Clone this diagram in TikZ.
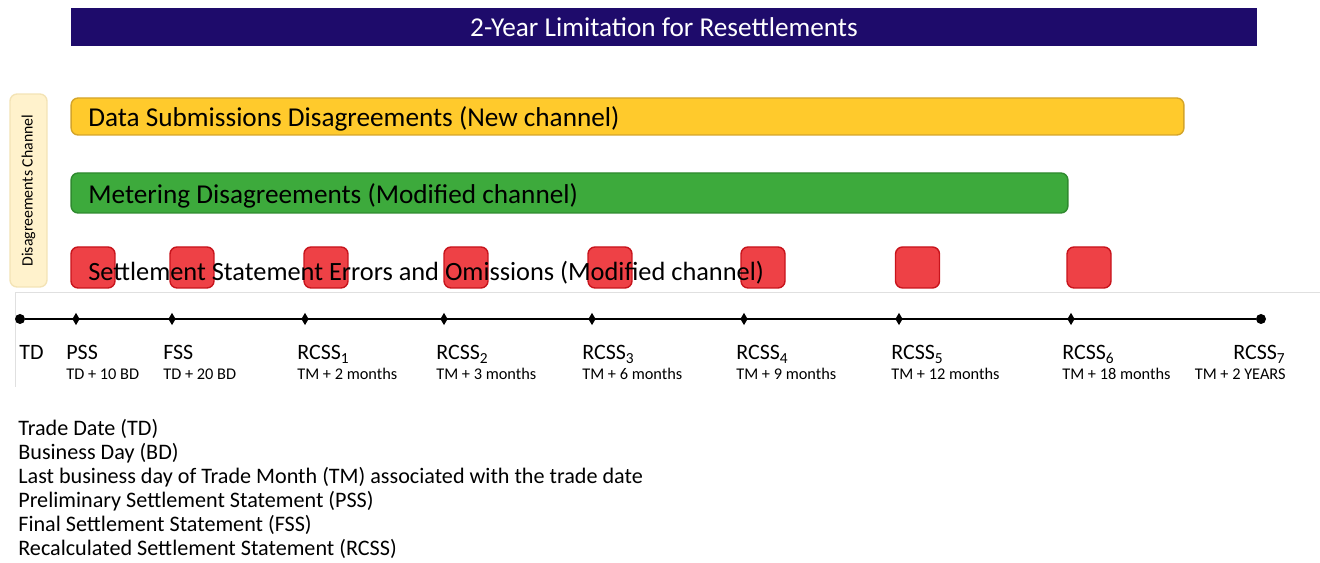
\documentclass[tikz,border=0pt]{standalone}
\usepackage{fontspec}
\setmainfont{Carlito}
\usetikzlibrary{shapes.geometric,positioning}
\definecolor{titleblue}{HTML}{1E0B6B}
\definecolor{datayellow}{HTML}{FFCA2C}
\definecolor{datayellowline}{HTML}{D4A52A}
\definecolor{metergreen}{HTML}{3DAA3C}
\definecolor{metergreenline}{HTML}{2F8A2F}
\definecolor{errred}{HTML}{EE4146}
\definecolor{errredline}{HTML}{C8141C}
\definecolor{chanfill}{HTML}{FFF2CC}
\definecolor{chanline}{HTML}{F3E3B5}

\begin{document}
\begin{tikzpicture}[x=0.02cm,y=-0.02cm]
    \tikzstyle{bar}=[rounded corners=4pt, line width=0.8pt, inner sep=0pt]
    \tikzstyle{bartext}=[anchor=west, inner sep=0pt, font=\fontsize{15.5}{18}\selectfont]
    \tikzstyle{errbox}=[bar, draw=errredline, fill=errred, minimum width=0.88cm, minimum height=0.82cm]
    \tikzstyle{tick}=[diamond, fill=black, minimum width=0.15cm, minimum height=0.25cm, inner sep=0pt]
    \tikzstyle{endpoint}=[circle, fill=black, minimum size=0.2cm, inner sep=0pt]
    \tikzstyle{stage}=[anchor=base west, inner sep=0pt, font=\fontsize{12.5}{14}\selectfont]
    \tikzstyle{delay}=[anchor=base west, inner sep=0pt, font=\fontsize{9.3}{11}\selectfont]
    \tikzstyle{legend}=[anchor=west, inner sep=0pt, font=\fontsize{12.6}{14}\selectfont]

    \useasboundingbox (0,0) rectangle (1320,563);

    % Title bar
    \node[fill=titleblue, minimum width=23.72cm, minimum height=0.76cm, inner sep=0pt,
          text=white, font=\fontsize{15.5}{18}\selectfont] (title) at (664,27)
        {2-Year Limitation for Resettlements};

    % Disagreements channel
    \node[bar, draw=chanline, fill=chanfill, minimum width=0.74cm, minimum height=3.86cm] (chan) at (28.5,190.5) {};
    \node[rotate=90, font=\fontsize{9}{10}\selectfont] (chantext) at (chan.center) {Disagreements Channel};

    \node[bar, draw=datayellowline, fill=datayellow, minimum width=22.26cm, minimum height=0.74cm] (data) at (627.5,116.5) {};
    \node[bartext] (datatext) at (88,119) {Data Submissions Disagreements (New channel)};

    \node[bar, draw=metergreenline, fill=metergreen, minimum width=19.94cm, minimum height=0.8cm] (meter) at (569.5,193) {};
    \node[bartext] (metertext) at (88,195.5) {Metering Disagreements (Modified channel)};

    % Error boxes, one for each statement
    \foreach \name / \x in {1/93,2/192,3/326,4/466,5/610,6/763,7/917.5,8/1089}
        \node[errbox] (E-\name) at (\x,267.5) {};
    \node[bartext, font=\fontsize{15}{18}\selectfont] (errtext) at (88,273) {Settlement Statement Errors and Omissions (Modified channel)};

    % Timeline frame
    \draw[black!12] (15,387) -- (15,292) -- (1320,292);

    % Timeline
    \node[endpoint] (T-0) at (20,319) {};
    \node[endpoint] (T-9) at (1261,319) {};
    \draw[line width=1.2pt] (T-0) -- (T-9);
    \foreach \name / \x in {1/76,2/172,3/305,4/444,5/592,6/744,7/899,8/1071}
        \node[tick] (T-\name) at (\x,319) {};

    % Stage labels
    \node[stage] (S-0) at (19,360) {TD};
    \foreach \name / \x / \stg / \dly in {1/66/PSS/TD + 10 BD, 2/163/FSS/TD + 20 BD,
            3/297/RCSS\textsubscript{1}/TM + 2 months, 4/436/RCSS\textsubscript{2}/TM + 3 months,
            5/582/RCSS\textsubscript{3}/TM + 6 months, 6/736/RCSS\textsubscript{4}/TM + 9 months,
            7/891/RCSS\textsubscript{5}/TM + 12 months, 8/1062/RCSS\textsubscript{6}/TM + 18 months}
    {
        \node[stage] (S-\name) at (\x,360) {\stg};
        \node[delay] (D-\name) at (\x,380) {\dly};
    }
    \node[stage, anchor=base east] (S-9) at (1286,360) {RCSS\textsubscript{7}};
    \node[delay, anchor=base east] (D-9) at (1286,380) {TM + 2 YEARS};

    % Legend
    \foreach \name / \y / \txt in {1/429/Trade Date (TD), 2/453/Business Day (BD),
            3/477/Last business day of Trade Month (TM) associated with the trade date,
            4/501/Preliminary Settlement Statement (PSS), 5/525/Final Settlement Statement (FSS),
            6/549/Recalculated Settlement Statement (RCSS)}
        \node[legend] (G-\name) at (18,\y) {\txt};
\end{tikzpicture}
\end{document}
